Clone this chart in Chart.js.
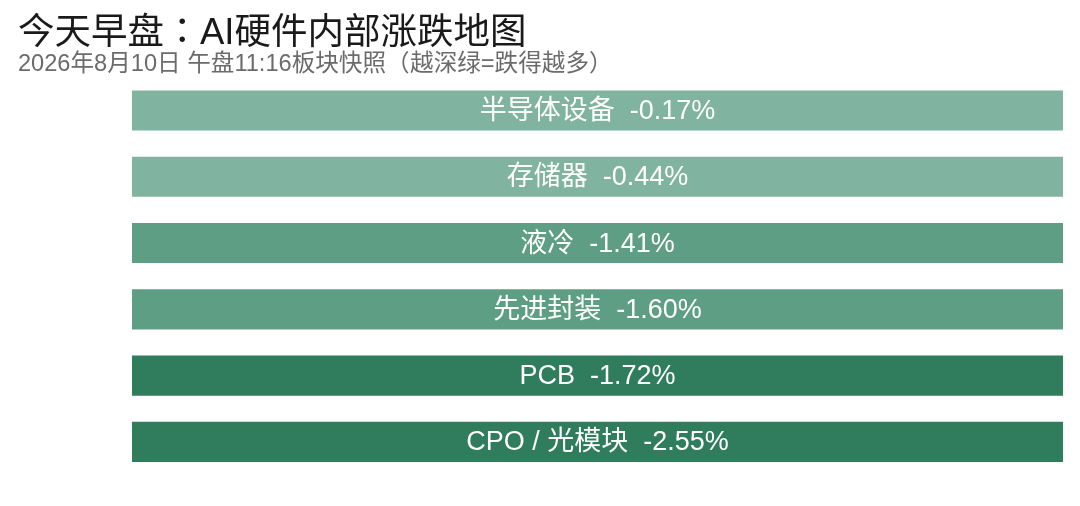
<!DOCTYPE html>
<html>
<head>
<meta charset="utf-8">
<script src="https://cdn.jsdelivr.net/npm/chart.js@4"></script>
<style>
  @font-face {
    font-family: 'PunctTC';
    src: local('Noto Sans CJK TC Regular'), local('NotoSansCJKtc-Regular'), local('Noto Sans CJK TC');
    unicode-range: U+FF08, U+FF09, U+FF1A;
  }
  html, body { margin: 0; padding: 0; background: #ffffff; }
  #wrap { width: 1080px; height: 506px; }
</style>
</head>
<body>
<div id="wrap"><canvas id="c" width="1080" height="506"></canvas></div>
<script>
const titleText = '今天早盘：AI硬件内部涨跌地图';
const subtitleText = '2026年8月10日 午盘11:16板块快照（越深绿=跌得越多）';
const categories = ['半导体设备', '存储器', '液冷', '先进封装', 'PCB', 'CPO / 光模块'];
const changes = [-0.17, -0.44, -1.41, -1.60, -1.72, -2.55];
const fullSpan = [1, 1, 1, 1, 1, 1];

const FONT = "'Liberation Sans', 'PunctTC', 'Noto Sans CJK SC', sans-serif";

function tierColor(v) {
  if (v > -1.0) return '#80b3a0';
  if (v > -1.65) return '#5e9e84';
  return '#2f7d5d';
}

const labelPlugin = {
  id: 'barLabels',
  afterDatasetsDraw(chart) {
    const ctx = chart.ctx;
    const meta = chart.getDatasetMeta(0);
    ctx.save();
    ctx.font = '27px ' + FONT;
    ctx.fillStyle = '#ffffff';
    ctx.textAlign = 'center';
    ctx.textBaseline = 'middle';
    meta.data.forEach((bar, i) => {
      const cx = (bar.base + bar.x) / 2;
      const txt = categories[i] + '  ' + changes[i].toFixed(2) + '%';
      ctx.fillText(txt, cx, bar.y + 1);
    });
    ctx.restore();
  }
};

function draw() {
  new Chart(document.getElementById('c'), {
    type: 'bar',
    data: {
      labels: categories,
      datasets: [{
        data: fullSpan,
        backgroundColor: changes.map(tierColor),
        borderWidth: 0,
        categoryPercentage: 1.0,
        barPercentage: 0.605
      }]
    },
    options: {
      indexAxis: 'y',
      responsive: false,
      animation: false,
      layout: { padding: { left: 18, right: 17, top: 0, bottom: 31 } },
      scales: {
        x: { display: false, min: 0, max: 1 },
        y: {
          display: true,
          grid: { display: false },
          border: { display: false },
          ticks: { display: false },
          afterFit(scale) { scale.width = 114; }
        }
      },
      plugins: {
        legend: { display: false },
        tooltip: { enabled: false },
        title: {
          display: true,
          text: titleText,
          align: 'start',
          color: '#1a1a1a',
          font: { family: FONT, size: 36.5, weight: 'normal', lineHeight: 1.1 },
          padding: { top: 14, bottom: 0 }
        },
        subtitle: {
          display: true,
          text: subtitleText,
          align: 'start',
          color: '#6b6b6b',
          font: { family: FONT, size: 23.6, weight: 'normal', lineHeight: 0.88 },
          padding: { top: 0, bottom: 2.5 }
        }
      }
    },
    plugins: [labelPlugin]
  });
}

Promise.all([
  document.fonts.load("36px 'PunctTC'", '：（）'),
  document.fonts.load("36px 'Noto Sans CJK SC'", '今天'),
  document.fonts.load("36px 'Liberation Sans'", 'AI')
]).catch(() => {}).then(draw);
</script>
</body>
</html>
